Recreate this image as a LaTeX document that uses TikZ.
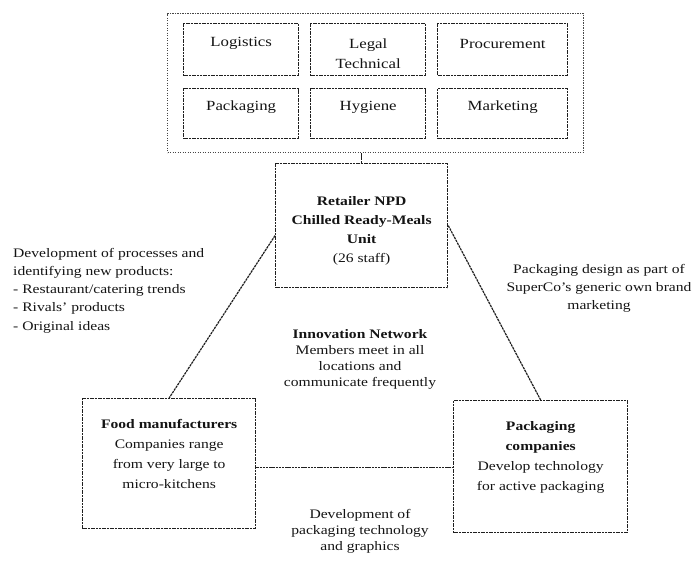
\documentclass[tikz,border=0pt]{standalone}
\usepackage{fontspec}
\setmainfont{Liberation Serif}[FakeStretch=1.2]
\begin{document}
\begin{tikzpicture}[x=1pt,y=-1pt,
  box/.style={draw=black!88, line width=1.3pt, dash pattern=on 2pt off 0.7pt,
              rectangle, anchor=north west, inner sep=0pt},
  outerbox/.style={draw=black!72, line width=1.2pt, dash pattern=on 1.2pt off 1.3pt,
              rectangle, anchor=north west, inner sep=0pt},
  link/.style={draw=black!88, line width=1.2pt, dash pattern=on 2.4pt off 0.8pt},
  txt/.style={text=black!92, align=center, inner sep=0pt},
  small/.style={font=\fontsize{13}{#1}\selectfont},
  big/.style={font=\fontsize{14}{20}\selectfont}
]
\useasboundingbox (0,0) rectangle (694,567);

% outer dotted frame with functions
\node[outerbox, minimum width=416, minimum height=139] (outer) at (167,13) {};
\node[box, minimum width=115, minimum height=52] (logi) at (183,23) {};
\node[box, minimum width=115, minimum height=52] (legal) at (310,23) {};
\node[box, minimum width=130, minimum height=52] (proc) at (437,23) {};
\node[box, minimum width=115, minimum height=50] (pack) at (183,88) {};
\node[box, minimum width=115, minimum height=50] (hyg) at (310,88) {};
\node[box, minimum width=130, minimum height=50] (mark) at (437,88) {};

\node[txt, big] (logiT) at ([yshift=6pt]logi.center) {Logistics};
\node[txt, big] (legalT) at ([yshift=-4pt]legal.center) {Legal\\Technical};
\node[txt, big] (procT) at ([yshift=6pt]proc.center) {Procurement};
\node[txt, big] (packT) at ([yshift=6pt]pack.center) {Packaging};
\node[txt, big] (hygT) at ([yshift=6pt]hyg.center) {Hygiene};
\node[txt, big] (markT) at ([yshift=6pt]mark.center) {Marketing};

% main boxes
\node[box, minimum width=172, minimum height=124] (ret) at (275,163) {};
\node[txt, small=19] (retT) at ([yshift=-5pt]ret.center)
  {\textbf{Retailer NPD}\\\textbf{Chilled Ready-Meals}\\\textbf{Unit}\\(26 staff)};

\node[box, minimum width=173, minimum height=130] (food) at (82,398) {};
\node[txt, small=20] (foodT) at ([yshift=9.5pt]food.center)
  {\textbf{Food manufacturers}\\Companies range\\from very large to\\micro-kitchens};

\node[box, minimum width=174, minimum height=132] (packco) at (453,400) {};
\node[txt, small=20] (packcoT) at ([yshift=9pt]packco.center)
  {\textbf{Packaging}\\\textbf{companies}\\Develop technology\\for active packaging};

% connectors
\draw[link] (ret.north) -- (ret.north |- outer.south);
\draw[link] ([yshift=-10pt]ret.west) -- (food.north);
\draw[link] (ret.east) -- (packco.north);
\draw[link] ([yshift=-4pt]food.east) -- ([yshift=-4pt]food.east -| packco.west);

% free texts
\node[txt, small=18.3, align=left, anchor=west] (leftT) at (13,290.5)
  {Development of processes and\\identifying new products:\\- Restaurant/catering trends\\- Rivals' products\\- Original ideas};
\node[txt, small=18] (rightT) at (599,288)
  {Packaging design as part of\\SuperCo's generic own brand\\marketing};
\node[txt, small=16] (centT) at (360,359)
  {\textbf{Innovation Network}\\Members meet in all\\locations and\\communicate frequently};
\node[txt, small=16] (botT) at (360,531)
  {Development of\\packaging technology\\and graphics};
\end{tikzpicture}
\end{document}
